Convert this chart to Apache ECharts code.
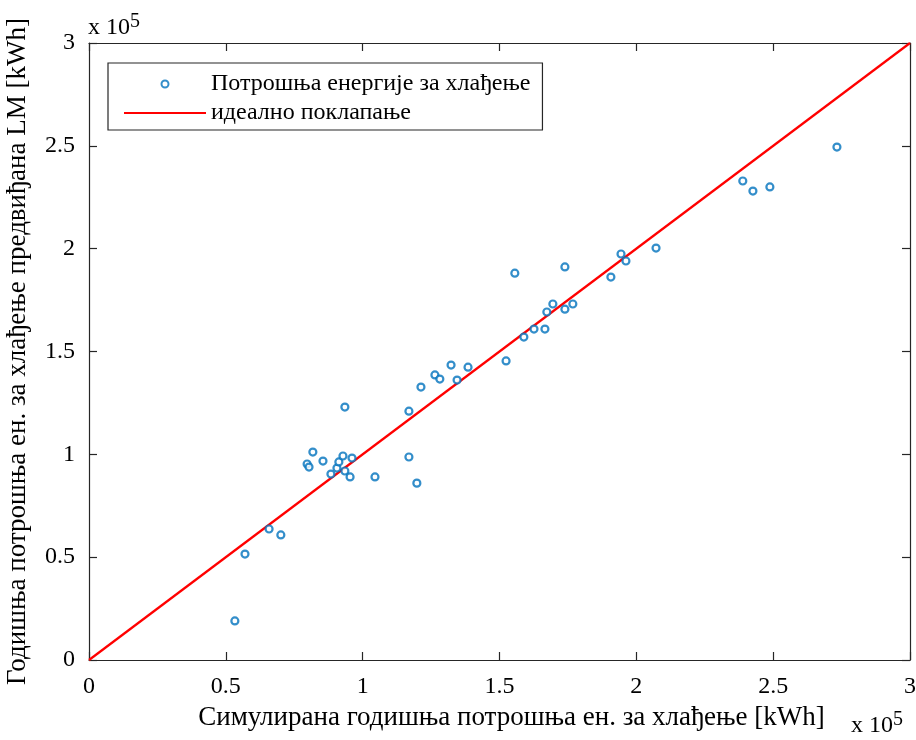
<!DOCTYPE html>
<html>
<head>
<meta charset="utf-8">
<script src="https://cdn.jsdelivr.net/npm/echarts@6/dist/echarts.min.js"></script>
<style>html,body{margin:0;padding:0;background:#fff}#c{width:916px;height:740px}</style>
</head>
<body>
<div id="c"></div>
<script>
// Simulated annual cooling energy [kWh]
const simX = [53300, 57000, 65800, 70100, 79700, 80400, 81800, 85500, 88400, 90600, 91300, 92800, 93500, 93500, 95400, 96100, 104500, 116900, 116900, 119800, 121300, 126400, 128200, 132300, 134500, 138500, 152400, 155600, 158900, 162600, 166600, 167300, 169500, 173900, 173900, 176800, 190700, 194400, 196200, 207200, 238900, 242600, 248800, 273300];
// Predicted by LM [kWh]
const predY = [19000, 51500, 63700, 60800, 95300, 93800, 101100, 96700, 90400, 93300, 96300, 99200, 123000, 91900, 89000, 98200, 89000, 121000, 98700, 86000, 132700, 138600, 136600, 143400, 136100, 142400, 145400, 188100, 157000, 160900, 160900, 169200, 173100, 191100, 170600, 173100, 186200, 197400, 194000, 200300, 232900, 228000, 230000, 249400];
const idealLine = [[0, 0], [300000, 300000]];
const seriesNames = ['Потрошња енергије за хлађење', 'идеално поклапање'];
const xTitle = 'Симулирана годишња потрошња ен. за хлађење [kWh]';
const yTitle = 'Годишња потрошња ен. за хлађење предвиђана LM [kWh]';
const scaleText = '{a|x 10}{b|5}';

const FONT = 'Liberation Serif';
const axisColor = '#262626';
const fmt = v => (v / 1e5).toString();

const chart = echarts.init(document.getElementById('c'));
const common = () => ({
  min: 0, max: 300000, interval: 50000,
  axisLine: { show: true, onZero: false, lineStyle: { color: axisColor, width: 1.2 } },
  axisTick: { show: true, inside: true, length: 8, lineStyle: { color: axisColor, width: 1.2 } },
  splitLine: { show: false }
});
const rich = {
  a: { fontFamily: FONT, fontSize: 24, fill: '#000' },
  b: { fontFamily: FONT, fontSize: 20, fill: '#000', verticalAlign: 'top', padding: [0, 0, 12, 0] }
};
chart.setOption({
  animation: false,
  backgroundColor: '#fff',
  grid: { left: 89, right: 6, top: 43, bottom: 80, outerBoundsMode: 'none', containLabel: false },
  xAxis: [
    Object.assign(common(), { type: 'value', position: 'bottom',
      axisLabel: { formatter: fmt, fontFamily: FONT, fontSize: 24, color: '#000', margin: 15 },
      name: xTitle, nameLocation: 'middle', nameGap: 44,
      nameTextStyle: { fontFamily: FONT, fontSize: 27, color: '#000', padding: [0, 0, 0, 24] } }),
    Object.assign(common(), { type: 'value', position: 'top', axisLabel: { show: false } })
  ],
  yAxis: [
    Object.assign(common(), { type: 'value', position: 'left',
      axisLabel: { formatter: fmt, fontFamily: FONT, fontSize: 24, color: '#000', margin: 14 },
      name: yTitle, nameLocation: 'middle', nameGap: 58,
      nameTextStyle: { fontFamily: FONT, fontSize: 27, color: '#000' } }),
    Object.assign(common(), { type: 'value', position: 'right', axisLabel: { show: false } })
  ],
  legend: {
    left: 108, top: 63, orient: 'vertical',
    backgroundColor: '#fff', borderColor: axisColor, borderWidth: 1.2, borderRadius: 0,
    padding: [9, 12, 5, 15], itemGap: 5, itemWidth: 82, itemHeight: 7,
    textStyle: { fontFamily: FONT, fontSize: 24, color: '#000' },
    data: [
      { name: seriesNames[0] },
      { name: seriesNames[1], itemStyle: { opacity: 0 } }
    ]
  },
  series: [
    {
      name: seriesNames[0], type: 'scatter', symbol: 'circle', symbolSize: 7,
      itemStyle: { color: '#ffffff', borderColor: '#0072BD', borderWidth: 2.2 },
      data: simX.map((x, i) => [x, predY[i]]), z: 3
    },
    {
      name: seriesNames[1], type: 'line', symbol: 'none', showSymbol: false,
      lineStyle: { color: '#ff0000', width: 2.2 }, itemStyle: { color: '#ff0000' },
      data: idealLine, z: 2
    }
  ],
  graphic: [
    { type: 'text', left: 88, top: 12, style: { text: scaleText, rich: rich } },
    { type: 'text', right: 13, top: 710, style: { text: scaleText, rich: rich } }
  ]
});
</script>
</body>
</html>
